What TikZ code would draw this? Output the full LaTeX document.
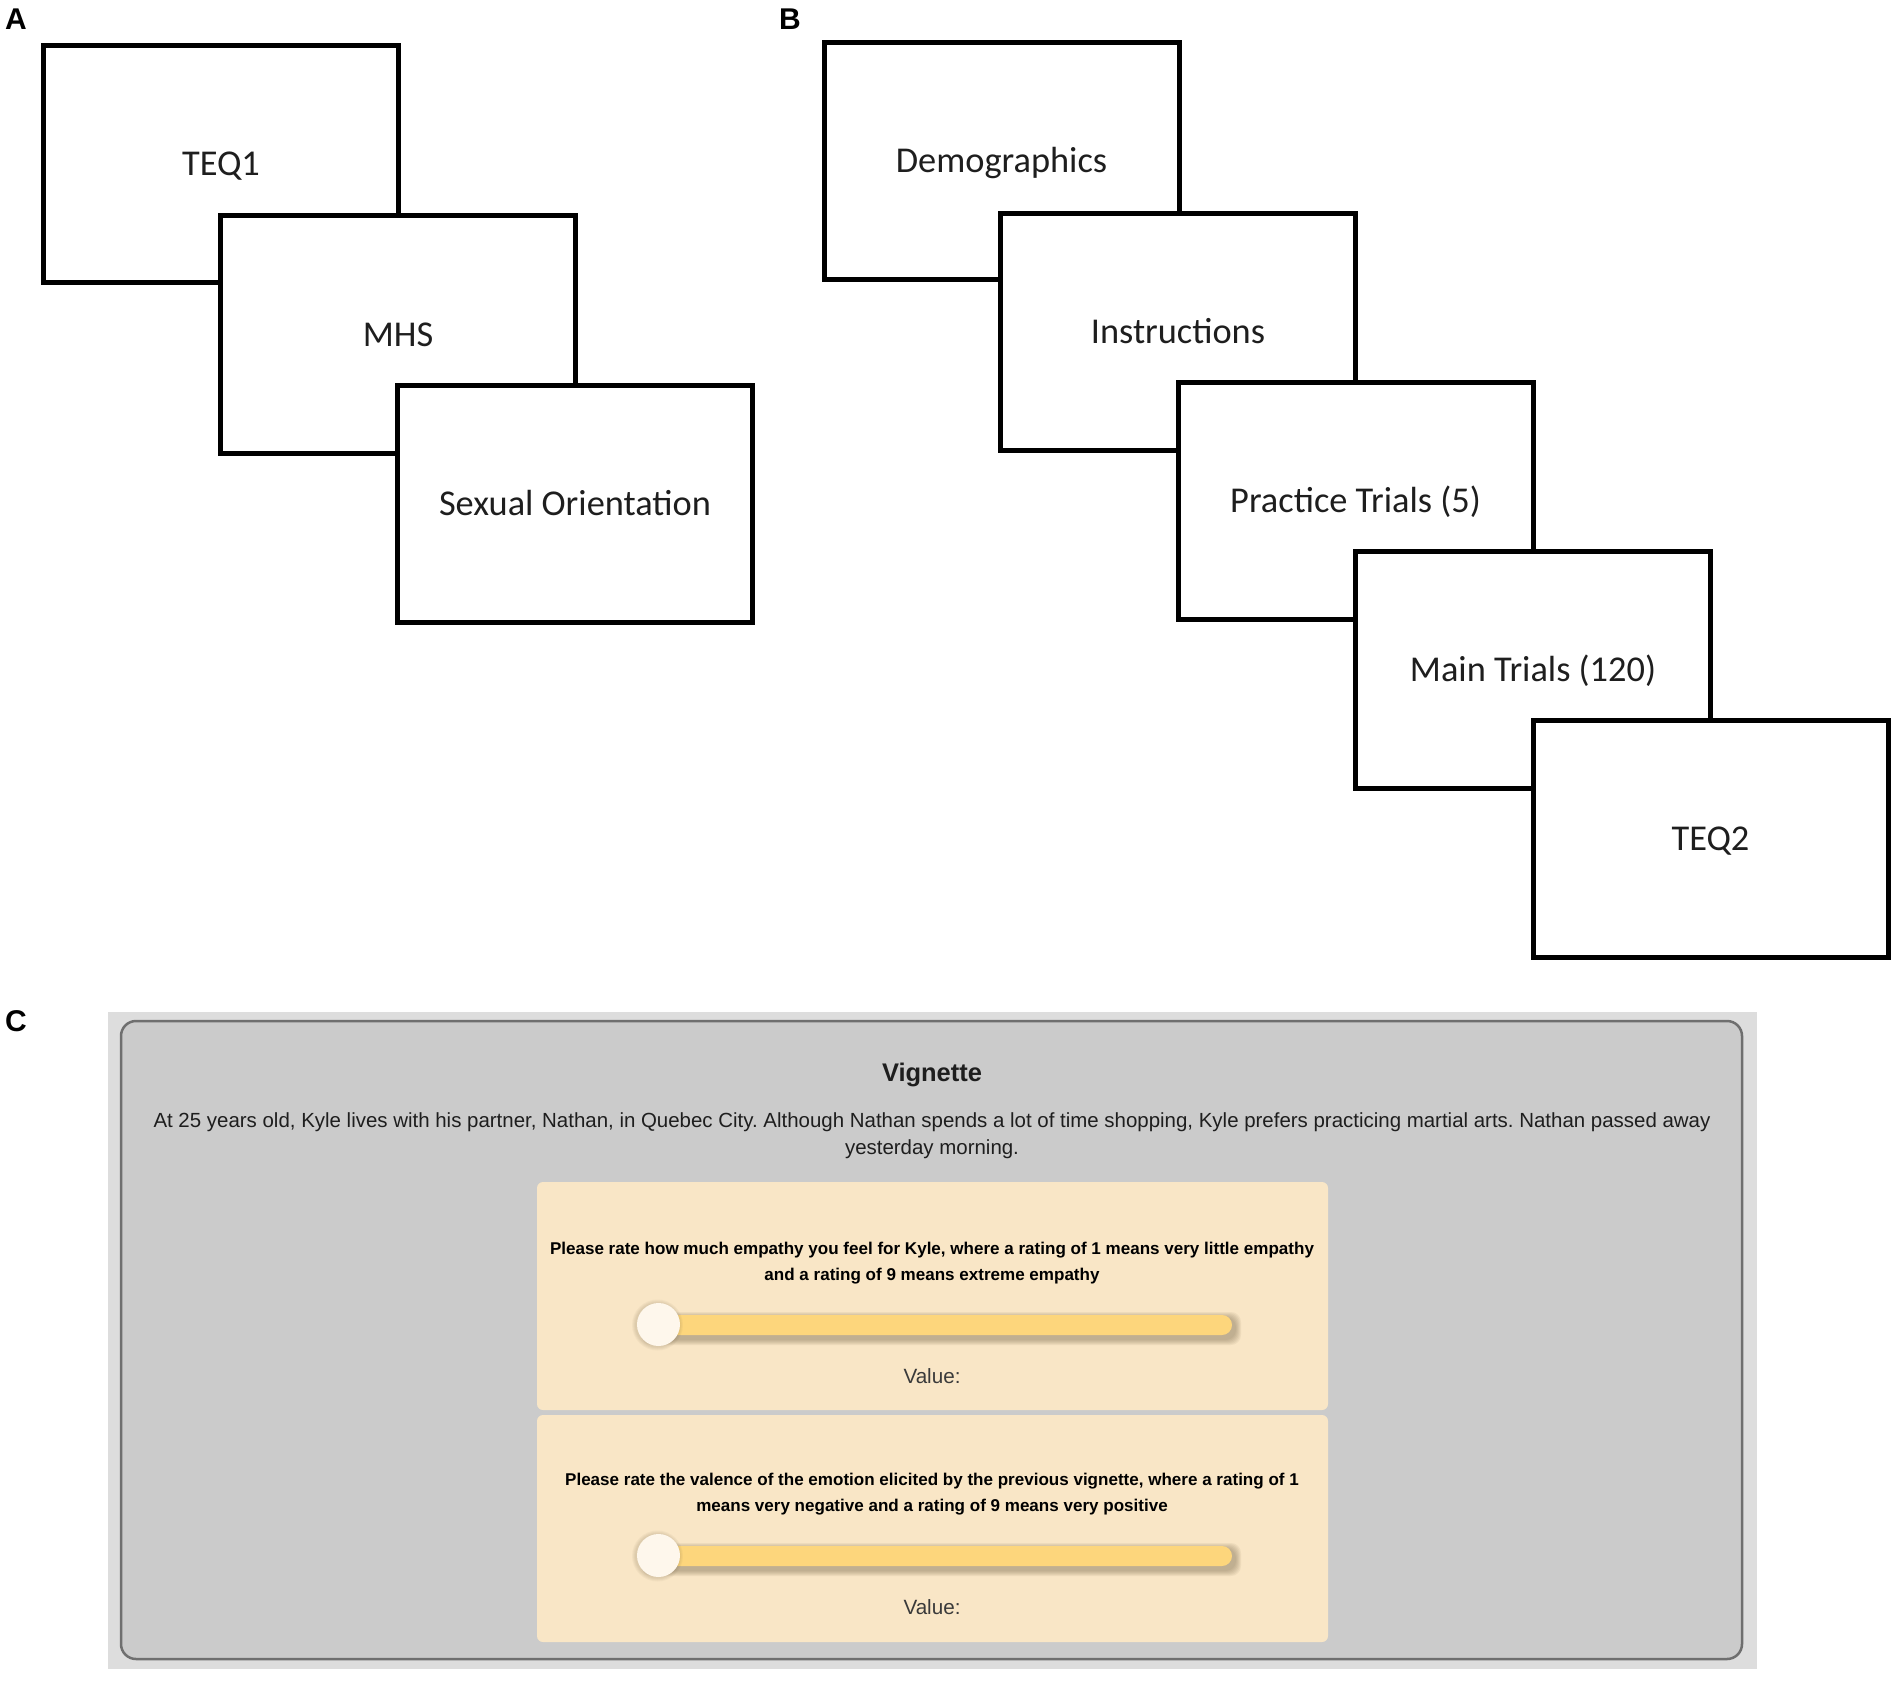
\documentclass[tikz,border=0pt]{standalone}
\usepackage{fontspec}
\setmainfont{Liberation Sans}
\newfontfamily\calfont{Carlito}
\newfontfamily\arialfont{Liberation Sans}
\frenchspacing
\definecolor{outerbg}{HTML}{DDDDDD}
\definecolor{panelbg}{HTML}{CBCBCB}
\definecolor{panelline}{HTML}{6F6F6F}
\definecolor{cardbg}{HTML}{F9E6C6}
\definecolor{trackc}{HTML}{FDD67C}
\definecolor{thumbc}{HTML}{FEF7EC}
\definecolor{shadowc}{HTML}{6E5E42}
\definecolor{txtc}{HTML}{1E1E1E}
\definecolor{valc}{HTML}{3A3A3A}
\newlength\fitlen
\newcommand\fitto[4]{%
  \settowidth\fitlen{#2\fontsize{10}{12}\selectfont #4}%
  \pgfmathsetmacro#1{#3/\fitlen*10}%
  \global\let#1#1}
\AtBeginDocument{%
\frenchspacing
\fitto{\boxfs}{\calfont}{272}{Sexual Orientation}%
\fitto{\parafs}{\arialfont}{1557}{At 25 years old, Kyle lives with his partner, Nathan, in Quebec City. Although Nathan spends a lot of time shopping, Kyle prefers practicing martial arts. Nathan passed away}%
\fitto{\qfs}{\arialfont\bfseries}{764}{Please rate how much empathy you feel for Kyle, where a rating of 1 means very little empathy}%
\fitto{\titfs}{\arialfont\bfseries}{100}{Vignette}%
\fitto{\valfs}{\arialfont}{57}{Value:}%
\pgfmathsetmacro\boxth{0.644*\boxfs}\global\let\boxth\boxth
}
\begin{document}
\begin{tikzpicture}[x=1pt,y=-1pt,
  screen/.style={draw=black, line width=5pt, fill=white, minimum width=355pt,
    minimum height=237pt, inner sep=0pt, text=txtc,
    text height=\boxth pt, text depth=0pt,
    font=\calfont\fontsize{\boxfs}{\boxfs}\selectfont},
  panellabel/.style={anchor=base west, inner sep=0pt,
    font=\arialfont\bfseries\fontsize{30}{30}\selectfont},
  card/.style={fill=cardbg, rounded corners=6pt, inner sep=0pt, minimum width=791pt},
  para/.style={anchor=base, inner sep=0pt, text=txtc,
    font=\arialfont\fontsize{\parafs}{\parafs}\selectfont},
  quest/.style={anchor=base, inner sep=0pt, text=black,
    font=\arialfont\bfseries\fontsize{\qfs}{\qfs}\selectfont},
  valtxt/.style={anchor=base, inner sep=0pt, text=valc,
    font=\arialfont\fontsize{\valfs}{\valfs}\selectfont},
]
\useasboundingbox (0,0) rectangle (1897,1685);
\fill[white] (0,0) rectangle (1897,1685);

% Panel A
\node[panellabel] (labA) at (5,30) {A};
\node[screen] (teq1) at (221,164) {TEQ1};
\node[screen] (mhs) at (398,334.5) {MHS};
\node[screen] (sexo) at (575,503.5) {Sexual Orientation};

% Panel B
\node[panellabel] (labB) at (779,30) {B};
\node[screen] (demo) at (1001.5,161) {Demographics};
\node[screen] (instr) at (1178,332) {Instructions};
\node[screen] (prac) at (1355.5,500.5) {Practice Trials (5)};
\node[screen] (main) at (1533,670) {Main Trials (120)};
\node[screen] (teq2) at (1710.5,838.5) {TEQ2};

% Panel C
\node[panellabel] (labC) at (5,1031) {C};
\fill[outerbg] (108,1012) rectangle (1757,1669);
\draw[panelline, line width=2.5pt, fill=panelbg, rounded corners=15pt] (121,1021) rectangle (1742,1659);

\node[anchor=base, inner sep=0pt, text=txtc, font=\arialfont\bfseries\fontsize{\titfs}{\titfs}\selectfont] (title) at (932,1081) {Vignette};
\node[para] (para1) at (932,1127) {At 25 years old, Kyle lives with his partner, Nathan, in Quebec City. Although Nathan spends a lot of time shopping, Kyle prefers practicing martial arts. Nathan passed away};
\node[para] (para2) at (932,1154) {yesterday morning.};

\node[card, minimum height=228pt] (card1) at (932.5,1296) {};
\node[card, minimum height=227pt] (card2) at (932.5,1528.5) {};

\node[quest] (q1a) at (932,1254) {Please rate how much empathy you feel for Kyle, where a rating of 1 means very little empathy};
\node[quest] (q1b) at (932,1280.5) {and a rating of 9 means extreme empathy};
\node[quest] (q2a) at (932,1485) {Please rate the valence of the emotion elicited by the previous vignette, where a rating of 1};
\node[quest] (q2b) at (932,1511.5) {means very negative and a rating of 9 means very positive};

\foreach \dy in {0,231}{
  \foreach \i in {1,...,6}{
    \fill[shadowc, opacity=0.08, rounded corners=10pt]
      (647-\i, 1315+\dy+3-\i) rectangle (1235+\i, 1335+\dy+4+\i);
  }
  \fill[trackc, rounded corners=10pt] (645,1315+\dy) rectangle (1232,1335+\dy);
  \foreach \i in {1,...,4}{
    \fill[shadowc, opacity=0.05] (657.5,1325+\dy) circle (21.5+\i);
  }
  \fill[thumbc] (658.5,1324.5+\dy) circle (21.5);
}
\node[valtxt] (val1) at (932,1383) {Value:};
\node[valtxt] (val2) at (932,1614) {Value:};
\end{tikzpicture}
\end{document}
